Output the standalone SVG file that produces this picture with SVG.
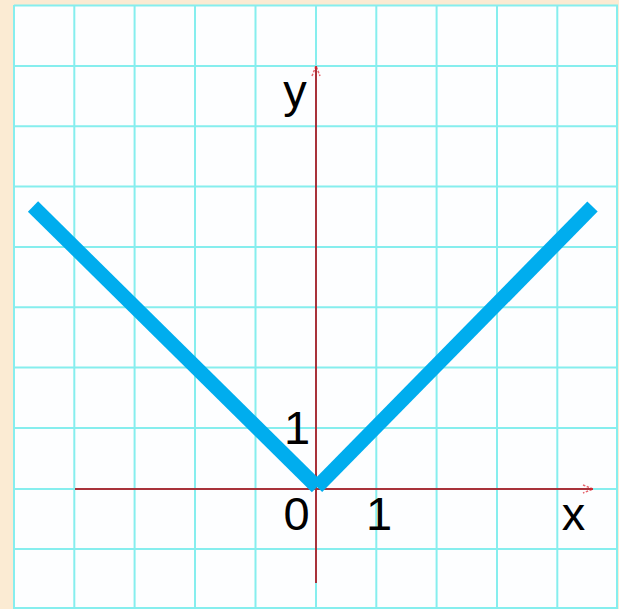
<svg xmlns="http://www.w3.org/2000/svg" width="619" height="609" viewBox="0 0 619 609">
<defs>
<style>
.grid line{stroke:#86eeee;stroke-width:2}
.axis{stroke:#a8323a;stroke-width:2;fill:none}
.graph{stroke:#00adee;stroke-width:14.5;stroke-linecap:butt;fill:none}
.lbl{font-family:"Liberation Sans",Arial,sans-serif;font-size:47px;fill:#000;text-anchor:middle}
</style>
<marker id="arr" viewBox="0 0 12 12" refX="11" refY="6" markerWidth="12" markerHeight="12" orient="auto" markerUnits="userSpaceOnUse">
<path d="M1,2 L11,6 L1,10" fill="none" stroke="#e0404a" stroke-width="1.5" stroke-dasharray="2.5,1.5" opacity="0.8"/>
<path d="M8,4.8 L11,6 L8,7.2 Z" fill="#d0202a"/>
</marker>
</defs>
<rect x="0" y="0" width="619" height="609" fill="#fbebd3"/>
<rect x="14" y="5" width="604" height="604" fill="#fdfeff"/>
<g id="grid" class="grid">
<line x1="14" y1="5" x2="14" y2="609"/>
<line x1="74.3" y1="5" x2="74.3" y2="609"/>
<line x1="134.6" y1="5" x2="134.6" y2="609"/>
<line x1="195" y1="5" x2="195" y2="609"/>
<line x1="255.5" y1="5" x2="255.5" y2="609"/>
<line x1="316" y1="5" x2="316" y2="609"/>
<line x1="376.3" y1="5" x2="376.3" y2="609"/>
<line x1="436.6" y1="5" x2="436.6" y2="609"/>
<line x1="497" y1="5" x2="497" y2="609"/>
<line x1="557.3" y1="5" x2="557.3" y2="609"/>
<line x1="617" y1="5" x2="617" y2="609"/>
<line x1="14" y1="5.5" x2="618" y2="5.5"/>
<line x1="14" y1="66" x2="618" y2="66"/>
<line x1="14" y1="126.3" x2="618" y2="126.3"/>
<line x1="14" y1="186.6" x2="618" y2="186.6"/>
<line x1="14" y1="247" x2="618" y2="247"/>
<line x1="14" y1="307.3" x2="618" y2="307.3"/>
<line x1="14" y1="367.6" x2="618" y2="367.6"/>
<line x1="14" y1="428" x2="618" y2="428"/>
<line x1="14" y1="489" x2="618" y2="489"/>
<line x1="14" y1="549" x2="618" y2="549"/>
<line x1="14" y1="608" x2="618" y2="608"/>
</g>
<g id="connectors">
<line id="x-axis" class="axis" x1="75" y1="489" x2="593" y2="489" marker-end="url(#arr)"/>
<line id="y-axis" class="axis" x1="316" y1="583" x2="316" y2="66" marker-end="url(#arr)"/>
<line id="graph-left" class="graph" x1="33" y1="206.5" x2="317" y2="487"/>
<line id="graph-right" class="graph" x1="317" y1="487" x2="592.5" y2="206.5"/>
</g>
<g id="labels">
<text id="label-y" class="lbl" x="295" y="107">y</text>
<text id="label-1y" class="lbl" x="297" y="444">1</text>
<text id="label-0" class="lbl" x="296.5" y="530">0</text>
<text id="label-1x" class="lbl" x="379" y="530">1</text>
<text id="label-x" class="lbl" x="573.5" y="530">x</text>
</g>
</svg>
